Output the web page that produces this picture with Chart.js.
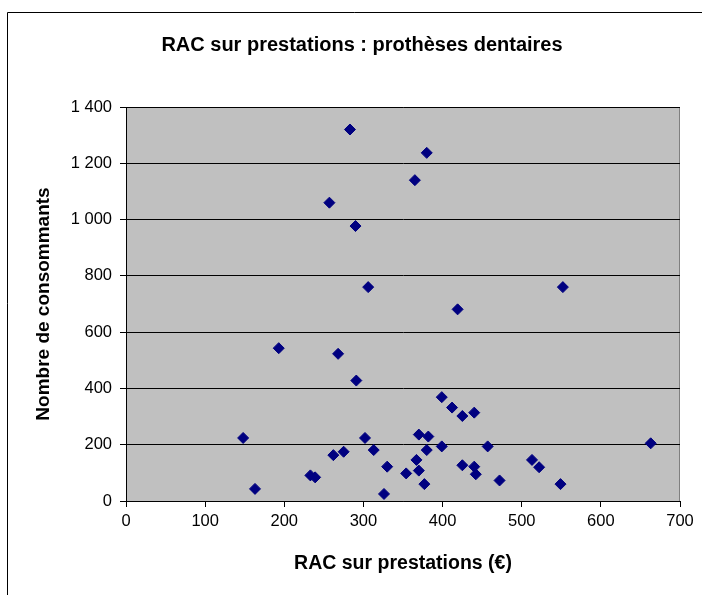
<!DOCTYPE html>
<html>
<head>
<meta charset="utf-8">
<script src="https://cdn.jsdelivr.net/npm/chart.js@4"></script>
<style>
  html, body { margin: 0; padding: 0; background: #fff; }
  #wrap { width: 702px; height: 595px; }
</style>
</head>
<body>
<div id="wrap"><canvas id="rac"></canvas></div>
<script>
// RAC sur prestations (€) / nombre de consommants
var racX = [283, 380, 365, 257, 290, 306, 552, 419, 193, 268,
            291, 399, 412, 425, 440, 148, 302, 370, 382, 313,
            380, 399, 457, 262, 275, 367, 513, 330, 425, 440,
            522, 370, 233, 239, 354, 442, 472, 163, 377, 549,
            326, 663];
var consommants = [1320, 1237, 1140, 1060, 977, 760, 760, 681, 543, 523,
                   428, 369, 332, 302, 314, 224, 224, 236, 229, 181,
                   181, 194, 194, 163, 175, 146, 146, 122, 127, 122,
                   120, 108, 91, 84, 98, 95, 73, 43, 60, 60,
                   25, 205];
var yTicks = [0, 200, 400, 600, 800, 1000, 1200, 1400];
var xTicks = [0, 100, 200, 300, 400, 500, 600, 700];
var titre = 'RAC sur prestations : prothèses dentaires';

var points = racX.map(function(x, i) { return {x: x, y: consommants[i]}; });

var police = 'Arial, "Liberation Sans", sans-serif';

// fond gris de la zone de tracé + cadre extérieur + titre
var cadre = {
    id: 'cadre',
    beforeDraw: function(chart) {
        var c = chart.ctx, a = chart.chartArea;
        c.save();
        c.fillStyle = '#C0C0C0';
        c.fillRect(a.left, a.top, a.right - a.left, a.bottom - a.top);
        c.strokeStyle = '#808080';
        c.lineWidth = 1;
        c.beginPath();
        c.moveTo(a.left, a.top + 0.5);
        c.lineTo(a.right - 0.5, a.top + 0.5);
        c.lineTo(a.right - 0.5, a.bottom);
        c.stroke();
        c.strokeStyle = '#000';
        c.beginPath();
        c.moveTo(7.5, 595);
        c.lineTo(7.5, 12.5);
        c.lineTo(702, 12.5);
        c.stroke();
        c.restore();
    },
    afterDraw: function(chart) {
        var c = chart.ctx;
        c.save();
        c.fillStyle = '#000';
        c.font = 'bold 20px ' + police;
        c.textAlign = 'center';
        c.textBaseline = 'middle';
        c.fillText(titre, 362, 45);
        c.restore();
    }
};

var ctx = document.getElementById('rac').getContext('2d');
var chart = new Chart(ctx, {
    type: 'scatter',
    data: {
        datasets: [{
            label: 'RAC',
            data: points,
            pointStyle: 'rectRot',
            pointRadius: 5.5,
            pointHoverRadius: 5.5,
            backgroundColor: '#000080',
            borderColor: '#000080',
            borderWidth: 1
        }]
    },
    options: {
        responsive: true,
        maintainAspectRatio: false,
        animation: false,
        layout: { padding: { left: 0, right: 22, top: 107, bottom: 0 } },
        plugins: {
            legend: { display: false },
            tooltip: { enabled: false },
            title: { display: false }
        },
        scales: {
            x: {
                type: 'linear',
                min: 0,
                max: 700,
                afterBuildTicks: function(s) { s.ticks = xTicks.map(function(v) { return {value: v}; }); },
                afterFit: function(s) { s.height = 94; },
                grid: { drawOnChartArea: false, color: '#000', tickLength: 6, tickColor: '#000' },
                border: { color: '#000', width: 1 },
                ticks: {
                    color: '#000',
                    padding: 5,
                    maxRotation: 0,
                    font: { family: police, size: 16.5 }
                },
                title: {
                    display: true,
                    text: 'RAC sur prestations (€)',
                    color: '#000',
                    font: { family: police, size: 19.5, weight: 'bold' },
                    padding: { top: 0, bottom: 20 }
                }
            },
            y: {
                min: 0,
                max: 1400,
                afterBuildTicks: function(s) { s.ticks = yTicks.map(function(v) { return {value: v}; }); },
                afterFit: function(s) { s.width = 126; },
                grid: { color: '#000', lineWidth: 1, tickLength: 6, tickColor: '#000' },
                border: { color: '#000', width: 1 },
                ticks: {
                    color: '#000',
                    padding: 8,
                    font: { family: police, size: 16.5 },
                    callback: function(v) { return String(v).replace(/\B(?=(\d{3})+(?!\d))/g, ' '); }
                },
                title: {
                    display: true,
                    text: 'Nombre de consommants',
                    color: '#000',
                    font: { family: police, size: 19, weight: 'bold' },
                    padding: { top: 32, bottom: 0 }
                }
            }
        }
    },
    plugins: [cadre]
});
</script>
</body>
</html>
